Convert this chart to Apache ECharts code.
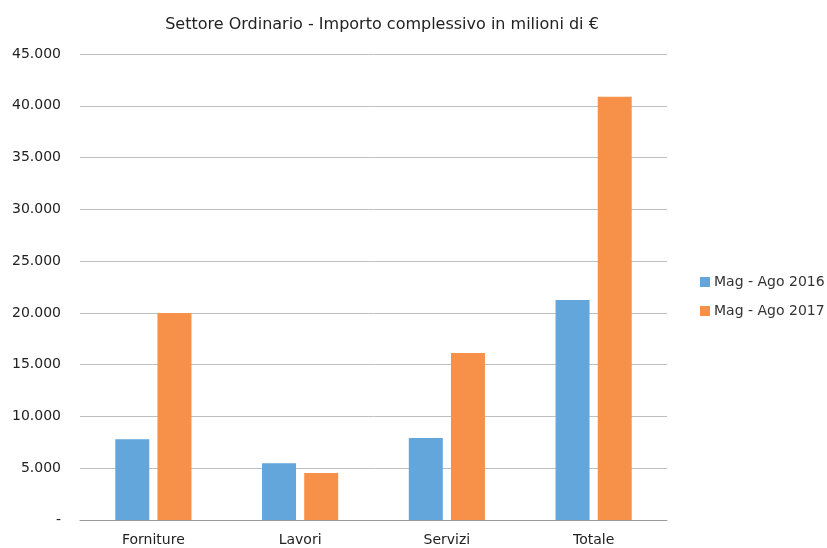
<!DOCTYPE html>
<html>
<head>
<meta charset="utf-8">
<script src="https://cdn.jsdelivr.net/npm/echarts@6/dist/echarts.min.js"></script>
<style>
  html, body { margin: 0; padding: 0; background: #fff; }
  #chart { width: 827px; height: 548px; }
</style>
</head>
<body>
<div id="chart"></div>
<script>
// Importo complessivo (milioni di €) per tipologia di contratto
const categories = ['Forniture', 'Lavori', 'Servizi', 'Totale'];
const seriesNames = ['Mag - Ago 2016', 'Mag - Ago 2017'];
const values2016 = [7790, 5480, 7920, 21240];
const values2017 = [19990, 4540, 16130, 40870];
const yTicks = [0, 5000, 10000, 15000, 20000, 25000, 30000, 35000, 40000, 45000];

const colors = ['#62A6DB', '#F7914A'];
const font = 'Verdana, "DejaVu Sans", sans-serif';

function fmt(v) {
  if (v === 0) return '-';
  return String(v).replace(/\B(?=(\d{3})+(?!\d))/g, '.');
}

const chart = echarts.init(document.getElementById('chart'));
chart.setOption({
  animation: false,
  title: {
    text: 'Settore Ordinario - Importo complessivo in milioni di €',
    left: 377,
    textAlign: 'center',
    top: 12,
    textStyle: { fontFamily: font, fontSize: 16, fontWeight: 'normal', color: '#222' }
  },
  legend: {
    orient: 'vertical',
    left: 695,
    top: 270,
    itemWidth: 10,
    itemHeight: 10,
    itemGap: 15,
    icon: 'rect',
    textStyle: { fontFamily: font, fontSize: 14, color: '#333', padding: [0, 0, 0, -1] },
    data: seriesNames
  },
  grid: { left: 80, right: 160, top: 54, bottom: 28 },
  xAxis: {
    type: 'category',
    data: categories,
    axisTick: { show: false },
    axisLine: { lineStyle: { color: '#999', width: 1 } },
    axisLabel: { fontFamily: font, fontSize: 14, color: '#222', margin: 13 }
  },
  yAxis: {
    type: 'value',
    min: yTicks[0],
    max: yTicks[yTicks.length - 1],
    interval: yTicks[1] - yTicks[0],
    axisLine: { show: false },
    axisTick: { show: false },
    splitLine: { lineStyle: { color: '#BFBFBF', width: 1 } },
    axisLabel: { fontFamily: font, fontSize: 14, color: '#222', margin: 19, formatter: fmt }
  },
  series: [
    { name: seriesNames[0], type: 'bar', data: values2016, barWidth: 34, barGap: '24%', itemStyle: { color: colors[0] } },
    { name: seriesNames[1], type: 'bar', data: values2017, barWidth: 34, barGap: '24%', itemStyle: { color: colors[1] } }
  ]
});
</script>
</body>
</html>
